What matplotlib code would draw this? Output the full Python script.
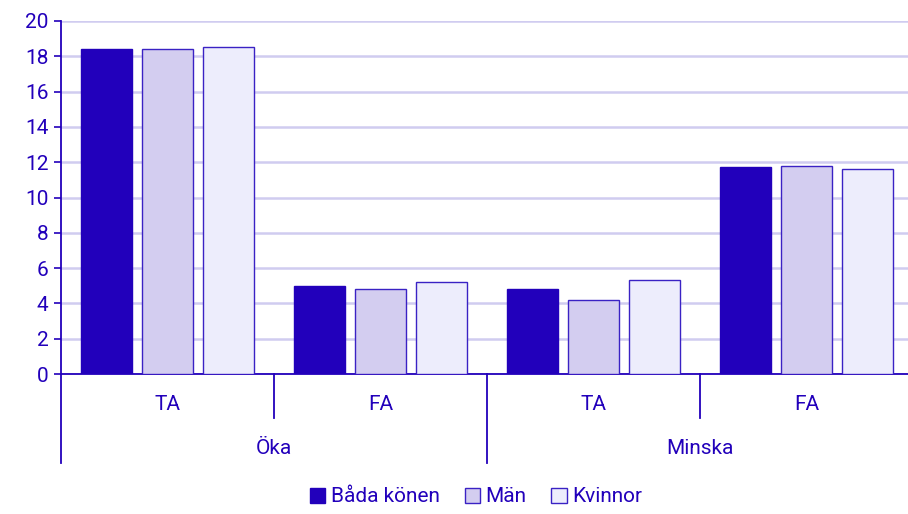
import matplotlib.pyplot as plt
import matplotlib.transforms as mtransforms
import numpy as np

plt.rcParams['font.family'] = ['Roboto', 'DejaVu Sans']

# data
groups = ['Öka', 'Minska']
subgroups = ['TA', 'FA', 'TA', 'FA']
series = ['Båda könen', 'Män', 'Kvinnor']
bada = [18.4, 5.0, 4.8, 11.7]
man = [18.4, 4.8, 4.2, 11.8]
kvinnor = [18.5, 5.2, 5.3, 11.6]

ink = '#2200bb'
fills = ['#2200bb', '#d3cdf0', '#ededfc']
edges = ['#2200bb', '#3a22c4', '#3a22c4']
fs = 15

W, H = 908, 514
fig = plt.figure(figsize=(W / 100, H / 100), dpi=100)
# axes from pixel 61..913 horizontally, 21..374 vertically
ax = fig.add_axes([61 / W, (H - 374) / H, (913 - 61) / W, (374 - 21) / H])

x = np.arange(len(subgroups))
width = 0.24
offsets = [-0.287, 0, 0.287]
for vals, off, fc, ec, name in zip([bada, man, kvinnor], offsets, fills, edges, series):
    ax.bar(x + off, vals, width, color=fc, edgecolor=ec, linewidth=1.0, label=name, zorder=3)

ax.set_xlim(-0.5, 3.5)
ax.set_ylim(0, 20)
ax.set_yticks(np.arange(0, 21, 2))
ax.yaxis.grid(True, color='#d0ccf0', linewidth=1.8, zorder=0)
ax.set_axisbelow(True)
ax.tick_params(axis='y', colors=ink, labelsize=fs, length=5, width=1.2, pad=4)
ax.set_xticks([])

for side in ['top', 'right']:
    ax.spines[side].set_visible(False)
ax.spines['left'].set_color(ink)
ax.spines['bottom'].set_color(ink)
ax.spines['left'].set_linewidth(1.3)
ax.spines['bottom'].set_linewidth(1.3)

trans = mtransforms.blended_transform_factory(ax.transData, ax.transAxes)
inner_y = -(418 - 374) / 353
outer_y = -(463 - 374) / 353

# subgroup labels and separators
for i, lab in enumerate(subgroups):
    ax.text(i, -(404 - 374) / 353, lab, transform=trans, ha='center', va='center',
            color=ink, fontsize=fs)
for b in [0.5, 2.5]:
    ax.plot([b, b], [0, inner_y], transform=trans, color=ink, lw=1.3, clip_on=False)
for b in [-0.5, 1.5]:
    ax.plot([b, b], [0, outer_y], transform=trans, color=ink, lw=1.3, clip_on=False)

# group labels
for j, g in enumerate(groups):
    ax.text(2 * j + 0.5, -(448 - 374) / 353, g, transform=trans, ha='center', va='center',
            color=ink, fontsize=fs)

leg = fig.legend(loc='center', bbox_to_anchor=(476 / W, 1 - 497 / H), ncol=3,
                 frameon=False, fontsize=fs, handlelength=0.75, handleheight=0.75,
                 handletextpad=0.25, columnspacing=1.2)
for t in leg.get_texts():
    t.set_color(ink)

fig.savefig('out.png', dpi=100)
